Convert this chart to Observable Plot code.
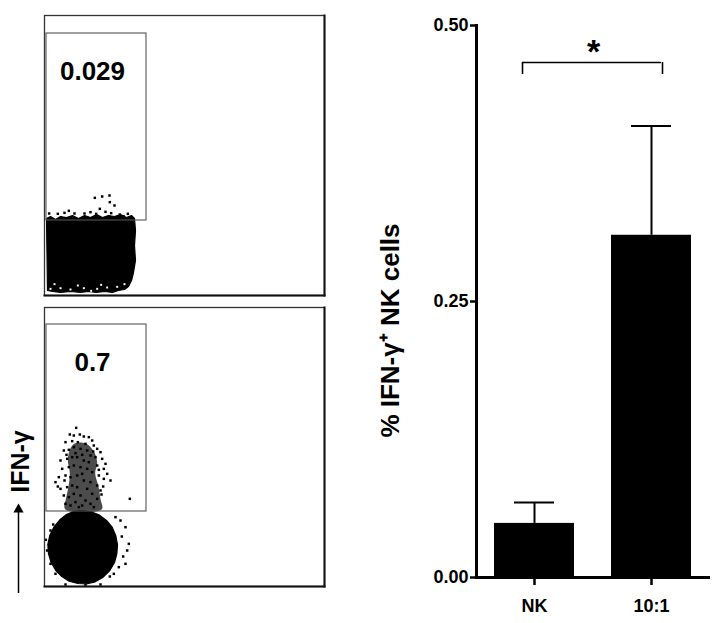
<!DOCTYPE html>
<html>
<head>
<meta charset="utf-8">
<script src="https://cdn.jsdelivr.net/npm/d3@7"></script>
<script src="https://cdn.jsdelivr.net/npm/@observablehq/plot@0.6"></script>
<style>
  html, body { margin: 0; padding: 0; background: #fff; }
  #wrap { position: relative; width: 727px; height: 623px; overflow: hidden; font-family: Arial, "Liberation Sans", Helvetica, sans-serif; }
  #wrap > div, #wrap > svg { position: absolute; }
  #bar svg [aria-label="x-axis tick"] path, #bar svg [aria-label="y-axis tick"] path { stroke-width: 2.5px; }
  #bar svg g.tick line { stroke-width: 2.5px; }
  #bar svg [aria-label="x-axis tick label"] text, #bar svg [aria-label="y-axis tick label"] text,
  #bar svg [aria-label="x-axis tick label"], #bar svg [aria-label="y-axis tick label"] { font-size: 18px; font-weight: bold; }
</style>
</head>
<body>
<div id="wrap">
  <div id="flowTop" style="left:0;top:0"></div>
  <div id="flowBottom" style="left:0;top:292px"></div>
  <div id="bar" style="left:360px;top:0"></div>
</div>
<script>
// ---------- Bar chart data ----------
const categories = ["NK", "10:1"];
const meanPct = [0.049, 0.31];
const semPct = [0.019, 0.099];
const yTickValues = [0, 0.25, 0.5];
const yLabel = "% IFN-\u03B3\u207A NK cells";
const significance = "*";

// ---------- Flow panels data (channel units, 0-840) ----------
const gateLabels = ["0.029", "0.7"];
const gateX = [6, 306];
const gateY = [225, 786];
const flowAxisLabel = "IFN-\u03B3";

// unstimulated NK: dense population outline
const topBlob = [
  [6,231],[18,237],[33,228],[48,237],[66,234],[84,240],[102,231],[120,240],[138,234],[156,243],
  [174,234],[192,240],[210,237],[228,243],[246,234],[261,240],[270,231],[273,195],[270,150],[273,105],
  [267,69],[261,45],[252,27],[240,18],[222,15],[204,9],[180,12],[156,9],[132,12],[108,9],
  [78,12],[48,9],[24,12],[9,15]
];
const topEvents = [
  [151,293],[173,297],[195,300],[196,280],[210,270],[166,260],[73,254],[155,245],[226,243],
  [238,237],[263,232],[120,246],[40,245],[90,246],[200,247],[250,245],[14,246],[60,248],[138,250],[183,251]
];
const topGaps = [[18,20],[48,22],[78,18],[118,22],[158,20],[188,24],[218,26],[30,34],[100,30],[140,14],[240,34],[170,32]];

// NK + targets 10:1: negative population outline
const bottomBlob = [
  [114,228],[140,224],[165,214],[186,198],[203,178],[214,152],[219,125],[217,98],[210,72],[196,48],
  [176,28],[152,14],[126,8],[100,9],[74,16],[52,30],[34,48],[20,72],[12,98],[10,126],
  [16,154],[28,178],[46,200],[66,216],[90,226]
];
const bottomPlumeCore = [
  [92,430],[125,428],[148,405],[158,372],[152,340],[162,300],[168,262],[172,232],
  [62,232],[66,270],[72,300],[76,340],[70,380],[78,415]
];
const bottomEvents = [
  [95,476],[76,456],[88,453],[106,456],[118,450],[133,448],[143,438],[63,433],[83,436],[100,433],
  [123,428],[148,423],[158,413],[168,403],[58,408],[73,410],[88,418],[108,413],[128,408],[138,393],
  [153,388],[173,383],[183,368],[48,378],[68,383],[83,388],[98,388],[118,378],[133,373],[158,363],
  [178,353],[188,338],[53,353],[73,358],[88,363],[108,358],[128,353],[143,343],[163,333],[178,323],
  [198,318],[33,313],[43,328],[63,333],[78,328],[98,333],[113,338],[118,318],[138,313],[158,303],
  [168,288],[48,293],[68,298],[83,303],[98,298],[128,293],[143,278],[158,263],[58,273],[73,268],
  [88,278],[108,273],[123,258],[138,248],[148,238],[63,248],[78,243],[93,253],[103,238],[113,243],
  [256,263],[171,276],[176,300],[60,318],[40,300],[163,350],[93,400],[113,395],[146,405],[66,395],
  [243,178],[248,108],[243,68],[253,128],[223,58],[8,108],[18,68],[33,38],[63,6],[168,6],
  [123,4],[208,38],[228,198],[213,208],[18,168],[232,150],[236,90],[4,140],[26,186],[196,30]
];
const arrowStem = [{x: -78, y1: -21, y2: 228}];
const arrowHead = [{x: -78, y: 231}];

const font = 'Arial, "Liberation Sans", Helvetica, sans-serif';

function flowPanel(opts) {
  const marks = [
    Plot.line(opts.blob, {x: d => d[0], y: d => d[1], curve: "linear-closed", fill: "black", stroke: "black", strokeWidth: 1.2}),
  ];
  if (opts.core) marks.push(Plot.line(opts.core, {x: d => d[0], y: d => d[1], curve: "catmull-rom-closed", fill: "black", fillOpacity: 0.7, stroke: "none"}));
  marks.push(
    Plot.dot(opts.events, {x: d => d[0], y: d => d[1], r: 1.4, symbol: "square", fill: "black", stroke: "none"}),
    Plot.dot(opts.gaps || [], {x: d => d[0], y: d => d[1], r: 1.1, symbol: "square", fill: "white", stroke: "none"}),
    Plot.rect([{x1: gateX[0], x2: gateX[1], y1: gateY[0], y2: gateY[1]}], {x1: "x1", x2: "x2", y1: "y1", y2: "y2", fill: "none", stroke: "#555", strokeWidth: 1.1}),
    Plot.text([{t: opts.label, x: 144, y: 672}], {x: "x", y: "y", text: "t", fontSize: 26, fontWeight: "bold", fill: "black", fontFamily: font}),
    Plot.frame({stroke: "#333", strokeWidth: 1.3}),
    Plot.frame({anchor: "right", stroke: "#111", strokeWidth: 2}),
    Plot.frame({anchor: "bottom", stroke: "#111", strokeWidth: 2})
  );
  if (opts.extra) marks.push(...opts.extra);
  return Plot.plot({
    width: 330, height: 300,
    marginLeft: 44, marginRight: 6, marginTop: 15, marginBottom: opts.marginBottom,
    x: {domain: [0, 840], axis: null},
    y: {domain: [0, opts.yMax], axis: null},
    style: {fontFamily: font, background: "transparent", overflow: "visible"},
    marks
  });
}

document.getElementById("flowTop").append(flowPanel({
  blob: topBlob, events: topEvents, gaps: topGaps, label: gateLabels[0], marginBottom: 5, yMax: 840
}));

document.getElementById("flowBottom").append(flowPanel({
  blob: bottomBlob, core: bottomPlumeCore, events: bottomEvents, label: gateLabels[1], marginBottom: 6, yMax: 837,
  extra: [
    Plot.text([{t: flowAxisLabel, y: 375}], {y: "y", text: "t", frameAnchor: "left", textAnchor: "middle", dx: -24, rotate: -90, fontSize: 25, fontWeight: "bold", fill: "black", fontFamily: font}),
    Plot.ruleX(arrowStem, {x: "x", y1: "y1", y2: "y2", stroke: "black", strokeWidth: 1.5}),
    Plot.dot(arrowHead, {x: "x", y: "y", symbol: "triangle", r: 3.8, fill: "black", stroke: "none"})
  ]
}));

// ---------- Bar chart ----------
const bars = categories.map((c, i) => ({group: c, value: meanPct[i], upper: meanPct[i] + semPct[i]}));
const bracket = [{a: categories[0], b: categories[1], y: 0.4665, yLow: 0.4556}];

const barChart = Plot.plot({
  width: 367, height: 623,
  marginLeft: 116, marginRight: 17, marginTop: 25, marginBottom: 46,
  style: {fontFamily: font, fontSize: "18px", fontWeight: "bold", color: "black", background: "transparent", overflow: "visible"},
  x: {domain: categories, paddingInner: 0.316, paddingOuter: 0.158, label: null, tickSize: 8, tickPadding: 14},
  y: {domain: [0, 0.5], ticks: yTickValues, tickFormat: d3.format(".2f"), tickSize: 6, tickPadding: 2, label: null},
  marks: [
    Plot.barY(bars, {x: "group", y: "value", fill: "black"}),
    Plot.ruleX(bars, {x: "group", y1: "value", y2: "upper", stroke: "black", strokeWidth: 2}),
    Plot.tickY(bars, {x: "group", y: "upper", insetLeft: 20, insetRight: 20, stroke: "black", strokeWidth: 2}),
    Plot.ruleY([0], {stroke: "black", strokeWidth: 3}),
    Plot.frame({anchor: "left", stroke: "black", strokeWidth: 3}),
    Plot.ruleY(bracket, {x1: "a", x2: "b", y: "y", insetLeft: 28, insetRight: 30, stroke: "black", strokeWidth: 1.6}),
    Plot.ruleX(bracket, {x: "a", y1: "yLow", y2: "y", dx: -12, stroke: "black", strokeWidth: 1.6}),
    Plot.ruleX(bracket, {x: "b", y1: "yLow", y2: "y", dx: 11, stroke: "black", strokeWidth: 1.6}),
    Plot.text([{t: significance, y: 0.4755}], {y: "y", text: "t", fontSize: 34, fontWeight: "bold", fill: "black"}),
    Plot.text([{t: yLabel, y: 0.2237}], {y: "y", text: "t", frameAnchor: "left", textAnchor: "middle", dx: -86, rotate: -90, fontSize: 26, fontWeight: "bold", fill: "black"})
  ]
});
document.getElementById("bar").append(barChart);
</script>
</body>
</html>
